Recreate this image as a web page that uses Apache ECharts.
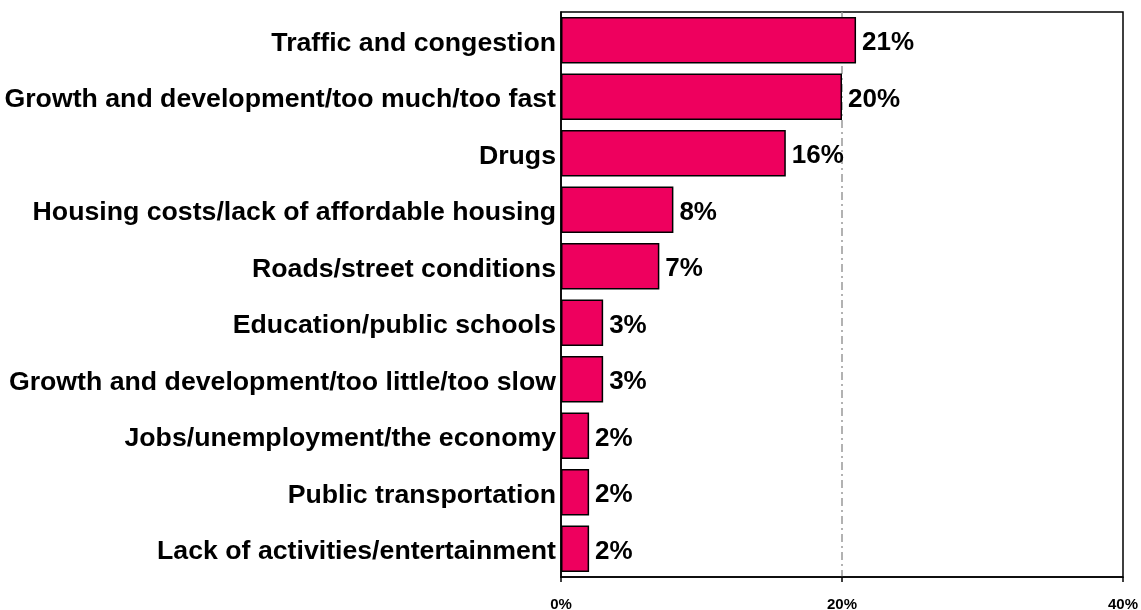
<!DOCTYPE html>
<html>
<head>
<meta charset="utf-8">
<script src="https://cdn.jsdelivr.net/npm/echarts@6/dist/echarts.min.js"></script>
<style>
  html, body { margin: 0; padding: 0; background: #ffffff; }
  #chart { width: 1141px; height: 610px; }
</style>
</head>
<body>
<div id="chart"></div>
<script>
// Issues listed from top to bottom
const categories = [
  'Traffic and congestion',
  'Growth and development/too much/too fast',
  'Drugs',
  'Housing costs/lack of affordable housing',
  'Roads/street conditions',
  'Education/public schools',
  'Growth and development/too little/too slow',
  'Jobs/unemployment/the economy',
  'Public transportation',
  'Lack of activities/entertainment'
];
const percentages = [21, 20, 16, 8, 7, 3, 3, 2, 2, 2];
const axisTicks = [0, 20, 40];

const chart = echarts.init(document.getElementById('chart'), null, { renderer: 'canvas' });

const FONT = '"Liberation Sans", Arial, sans-serif';

chart.setOption({
  animation: false,
  backgroundColor: '#ffffff',
  grid: {
    left: 561, right: 18, top: 12, bottom: 33,
    outerBoundsMode: 'none',
    containLabel: false,
    show: true, borderColor: '#000000', borderWidth: 1.5,
    backgroundColor: 'transparent'
  },
  xAxis: {
    type: 'value',
    min: axisTicks[0],
    max: axisTicks[axisTicks.length - 1],
    interval: axisTicks[1] - axisTicks[0],
    axisLine: { show: true, lineStyle: { color: '#000000', width: 1.5 } },
    axisTick: { show: true, length: 5, lineStyle: { color: '#000000', width: 1.5 } },
    axisLabel: {
      margin: 20,
      fontFamily: FONT, fontWeight: 'bold', fontSize: 15, color: '#000000',
      formatter: v => v + '%'
    },
    splitLine: {
      show: true,
      showMinLine: false,
      showMaxLine: false,
      lineStyle: { color: '#999999', width: 1.5, type: [8, 4, 2, 4] }
    }
  },
  yAxis: {
    type: 'category',
    data: categories,
    inverse: true,
    axisLine: { show: true, lineStyle: { color: '#000000', width: 1.5 } },
    axisTick: { show: false },
    axisLabel: {
      margin: 5,
      formatter: v => '{c|' + v + '}',
      rich: {
        c: {
          padding: [6, 0, 0, 0],
          fontFamily: FONT, fontWeight: 'bold', fontSize: 26.7, color: '#000000'
        }
      },
      fontFamily: FONT, fontWeight: 'bold', fontSize: 26.7, color: '#000000'
    },
    splitLine: { show: false }
  },
  series: [{
    type: 'bar',
    data: percentages,
    barCategoryGap: '18%',
    itemStyle: { color: '#EE005E', borderColor: '#000000', borderWidth: 1.5 },
    label: {
      show: true,
      position: 'right',
      distance: 6,
      offset: [0, 3],
      fontFamily: FONT, fontWeight: 'bold', fontSize: 26, color: '#000000',
      formatter: p => p.value + '%'
    }
  }]
});
</script>
</body>
</html>
